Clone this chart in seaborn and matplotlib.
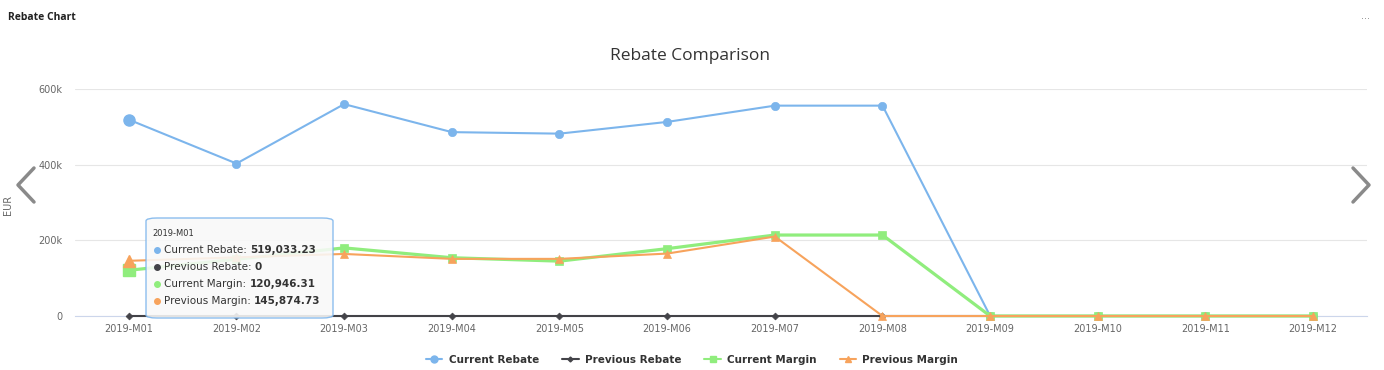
import matplotlib
matplotlib.use("Agg")
import matplotlib.pyplot as plt
from matplotlib.patches import FancyBboxPatch
from matplotlib.lines import Line2D
import seaborn as sns
import pandas as pd

months = ["2019-M01", "2019-M02", "2019-M03", "2019-M04", "2019-M05", "2019-M06",
          "2019-M07", "2019-M08", "2019-M09", "2019-M10", "2019-M11", "2019-M12"]
current_rebate = [519033.23, 403000, 560000, 486000, 482000, 513000, 556000, 556000, 0, 0, 0, 0]
previous_rebate = [0, 0, 0, 0, 0, 0, 0, 0, 0, 0, 0, 0]
current_margin = [120946.31, 150000, 180000, 154000, 145000, 178000, 214000, 214000, 0, 0, 0, 0]
previous_margin = [145874.73, 155000, 164000, 151000, 151000, 165000, 210000, 0, 0, 0, 0, 0]
y_ticks = [0, 200000, 400000, 600000]
y_labels = ["0", "200k", "400k", "600k"]

series = [
    ("Current Rebate", current_rebate, "#7cb5ec", "o", 6, 1.5),
    ("Previous Rebate", previous_rebate, "#434348", "D", 3.5, 1.5),
    ("Current Margin", current_margin, "#90ed7d", "s", 6, 2.3),
    ("Previous Margin", previous_margin, "#f7a35c", "^", 6, 1.5),
]

sns.set_style("white")
plt.rcParams["font.family"] = ["DejaVu Sans"]

W, H = 1384, 370
fig = plt.figure(figsize=(W / 100, H / 100), dpi=100)
ax = fig.add_axes([75 / W, 1 - 316 / H, (1367 - 75) / W, (316 - 89) / H])

handles = []
for name, vals, color, marker, ms, lw in series:
    df = pd.DataFrame({"month": months, "value": vals})
    sns.lineplot(data=df, x="month", y="value", ax=ax, color=color, marker=marker,
                 markersize=ms, markeredgecolor=color, markeredgewidth=0.5,
                 linewidth=lw, clip_on=False, legend=False, zorder=3)
    # hovered point drawn a bit bigger
    if marker != "D":
        ax.plot(df["month"].iloc[:1], df["value"].iloc[:1], marker=marker, color=color,
                markersize=ms + 2, linestyle="none", clip_on=False, zorder=4)
    handles.append(Line2D([], [], color=color, marker=marker, markersize=ms - 1,
                          linewidth=1.5, label=name))

ax.set_xlim(-0.5, len(months) - 0.5)
ax.set_ylim(0, 600000)
ax.set_yticks(y_ticks)
ax.set_yticklabels(y_labels)
ax.set_xticks(range(len(months)))
ax.set_xticklabels(months)
ax.set_xticks([i - 0.5 for i in range(len(months) + 1)], minor=True)
ax.tick_params(axis="x", which="major", length=0, pad=6, labelsize=7, labelcolor="#666666")
ax.tick_params(axis="x", which="minor", length=7, width=0.8, color="#ccd6eb")
ax.tick_params(axis="y", length=0, pad=9, labelsize=7, labelcolor="#666666")
ax.set_xlabel("")
ax.set_ylabel("")
ax.grid(axis="y", color="#e6e6e6", linewidth=0.8)
ax.grid(axis="x", visible=False)
for s in ["top", "left", "right"]:
    ax.spines[s].set_visible(False)
ax.spines["bottom"].set_color("#ccd6eb")
ax.spines["bottom"].set_linewidth(0.8)

fig.text(8 / W, 1 - 205 / H, "EUR", rotation=90, ha="center", va="center",
         fontsize=7, color="#666666")
fig.text(690 / W, 1 - 56 / H, "Rebate Comparison", ha="center", va="center",
         fontsize=12.5, color="#333333", family=["Open Sans", "DejaVu Sans"])
fig.text(8 / W, 1 - 17 / H, "Rebate Chart", ha="left", va="center",
         fontsize=7.5, fontweight="bold", color="#222222", family=["Open Sans", "DejaVu Sans"])
fig.text(1366 / W, 1 - 16 / H, "...", ha="center", va="center", fontsize=7, color="#888888")

# navigation chevrons
fig.add_artist(Line2D([34 / W, 18 / W, 34 / W], [1 - 168 / H, 1 - 185 / H, 1 - 202 / H],
                      color="#8a8a8a", linewidth=2.5, solid_capstyle="round"))
fig.add_artist(Line2D([1353 / W, 1369 / W, 1353 / W], [1 - 168 / H, 1 - 185 / H, 1 - 202 / H],
                      color="#8a8a8a", linewidth=2.5, solid_capstyle="round"))

# legend
fig.legend(handles=handles, loc="center", bbox_to_anchor=(692 / W, 1 - 360 / H), ncol=4,
           frameon=False, handlelength=1.6, columnspacing=2.2, handletextpad=0.6,
           prop={"size": 7.5, "weight": "bold"}, labelcolor="#333333")

# tooltip
box = FancyBboxPatch((146 / W, 1 - 318 / H), (333 - 146) / W, (318 - 218) / H,
                     boxstyle="round,pad=0,rounding_size=0.008", transform=fig.transFigure,
                     facecolor="#f9f9f9", edgecolor="#7cb5ec", linewidth=1, alpha=0.88, zorder=10)
fig.add_artist(box)
fig.text(152 / W, 1 - 234 / H, months[0], fontsize=6, color="#333333", va="center", zorder=11)
renderer = fig.canvas.get_renderer()
tip_rows = [(name, vals[0], color) for name, vals, color, *_ in series]
for i, (name, val, color) in enumerate(tip_rows):
    yy = 1 - (250 + i * 17) / H
    fig.add_artist(Line2D([157 / W], [yy], marker="o", markersize=4, color=color,
                          linestyle="none", zorder=11))
    t = fig.text(164 / W, yy, f"{name}: ", fontsize=7.5, color="#333333", va="center", zorder=11)
    ext = t.get_window_extent(renderer)
    vtxt = f"{val:,.2f}" if val else "0"
    fig.text(ext.x1 / W, yy, vtxt, fontsize=7.5, fontweight="bold", color="#333333",
             va="center", zorder=11)

fig.savefig("out.png", dpi=100)
